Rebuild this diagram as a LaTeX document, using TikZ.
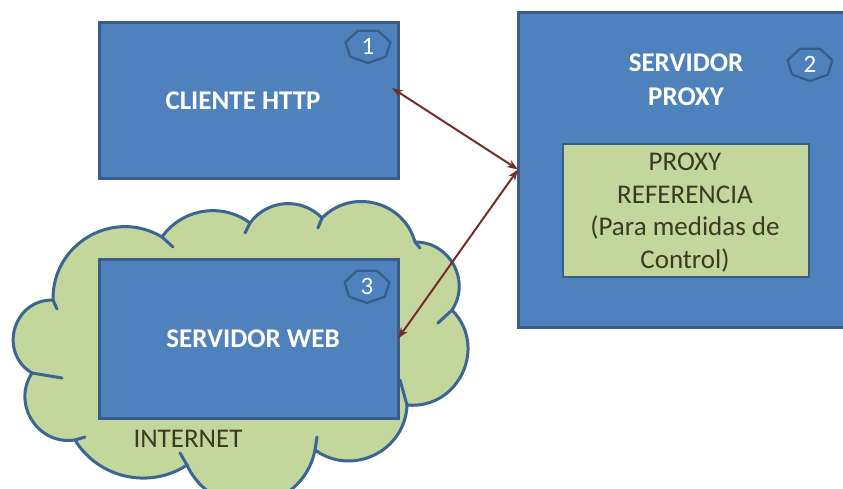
\documentclass[tikz,border=0pt]{standalone}
\usepackage{fontspec}
\setmainfont{Carlito}
\usetikzlibrary{arrows.meta}

\definecolor{boxblue}{HTML}{4F81BD}
\definecolor{boxedge}{HTML}{385D8A}
\definecolor{leaf}{HTML}{C3D69B}
\definecolor{cloudedge}{HTML}{3A6595}
\definecolor{linkred}{HTML}{772C2A}
\definecolor{inktext}{HTML}{3D3A22}

% numbered heptagon badge: name, position, number
\newcommand{\tagbadge}[3]{%
  \node[tagtext] (#1) at (#2) {#3};
  \draw[tagline, shift={(#1.center)}]
    (90:23 and 17) -- (141.43:23 and 17) -- (192.86:23 and 17) --
    (244.29:23 and 17) -- (295.71:23 and 17) -- (347.14:23 and 17) --
    (38.57:23 and 17) -- cycle;
}

\begin{document}
\begin{tikzpicture}[x=1pt,y=-1pt,
  panel/.style={draw=boxedge, fill=boxblue, line width=3pt, inner sep=0pt, outer sep=0pt},
  greenpanel/.style={draw=boxedge, fill=leaf, line width=2.5pt, inner sep=0pt, outer sep=0pt},
  whitelabel/.style={text=white, font=\fontsize{27}{34}\selectfont\bfseries, align=center, inner sep=0pt},
  darklabel/.style={text=inktext, font=\fontsize{27}{32.5}\selectfont, align=center, inner sep=0pt},
  tagtext/.style={text=white, font=\fontsize{25}{30}\selectfont, inner sep=0pt},
  tagline/.style={draw=boxedge, line width=2.2pt, line join=round},
  link/.style={draw=linkred, line width=2pt,
    arrows={Stealth[length=11pt,width=8pt]-Stealth[length=11pt,width=8pt]}},
  cloudline/.style={draw=cloudedge, line width=3pt, line cap=round, line join=round},
]
\fill[white] (0,0) rectangle (843,488);
\useasboundingbox (0,0) rectangle (843,488);

% the Internet cloud: round lobes meeting at inward cusps
\draw[cloudline, fill=leaf]
  (32,373) to[bend left=75, looseness=1.34] (53,300)
  to[bend left=61, looseness=1.15] (162,237)
  to[bend left=46, looseness=1.0] (250,223)
  to[bend left=50, looseness=1.04] (322,218)
  to[bend left=60, looseness=1.13] (415,242)
  to[bend left=62, looseness=1.15] (452,310)
  to[bend left=70, looseness=1.26] (407,405)
  to[bend left=62, looseness=1.15] (315,450)
  to[bend left=72, looseness=1.3] (187,465)
  to[bend left=46, looseness=1.0] (75,440)
  to[bend left=66, looseness=1.2] (32,373) -- cycle;
% inner ticks of the cloud lobes
\draw[cloudline] (32,373) -- (62,378);
\draw[cloudline] (53,300) -- (57,309);
\draw[cloudline] (162,237) -- (173,247);
\draw[cloudline] (250,223) -- (245,233);
\draw[cloudline] (322,218) -- (318,228);
\draw[cloudline] (415,242) -- (420,248);
\draw[cloudline] (452,310) -- (438,323);
\draw[cloudline] (407,405) -- (400,380);
\draw[cloudline] (315,450) -- (317,437);
\draw[cloudline] (187,465) -- (180,453);
\draw[cloudline] (75,440) -- (85,437);

% boxes
\node[panel, minimum width=299, minimum height=156] (client) at (248.5,100) {};
\node[panel, minimum width=332, minimum height=315] (proxy) at (684,169.5) {};
\node[greenpanel, minimum width=246, minimum height=133] (ref) at (686,210.5) {};
\node[panel, minimum width=299, minimum height=159] (web) at (248.5,338.5) {};

% labels
\node[whitelabel] (clientlabel) at (243,101) {CLIENTE HTTP};
\node[whitelabel] (proxylabel) at (686,79.5) {SERVIDOR\\PROXY};
\node[whitelabel] (weblabel) at (253,338.5) {SERVIDOR WEB};
\node[darklabel] (reflabel) at (685,212.5) {PROXY\\REFERENCIA\\(Para medidas de\\Control)};
\node[darklabel] (netlabel) at (188,438.5) {INTERNET};

% numbered badges
\tagbadge{b1}{368,46}{1}
\tagbadge{b2}{810,64}{2}
\tagbadge{b3}{367,286}{3}

% connectors
\draw[link] ([xshift=-6pt, yshift=12pt]client.east) -- (proxy.west);
\draw[link] (proxy.west) -- (web.east);
\end{tikzpicture}
\end{document}
